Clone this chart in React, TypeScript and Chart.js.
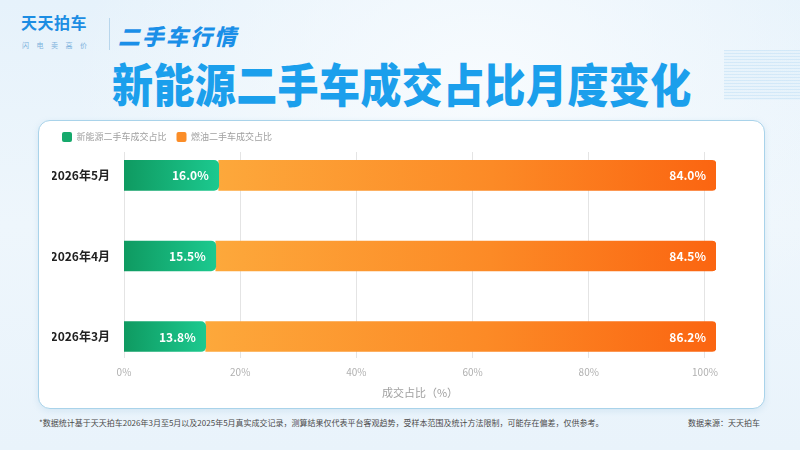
import React, { useEffect, useRef } from "react";
import { Chart, registerables } from "chart.js";

Chart.register(...registerables);

const categories = ["2026年5月", "2026年4月", "2026年3月"];
const nevShare = [16.0, 15.5, 13.8];
const fuelShare = [84.0, 84.5, 86.2];
const seriesNames = ["新能源二手车成交占比", "燃油二手车成交占比"];
const tickValues = [0, 20, 40, 60, 80, 100];
const axisTitle = "成交占比（%）";

const FONT = "'Noto Sans CJK SC', 'Noto Sans', sans-serif";
const BAR_OVERFLOW = 1.019; // bars run slightly past the 100% gridline in the reference

function greenFill(ctx: any) {
  const chart = ctx.chart;
  const xs = chart.scales && chart.scales.x;
  if (!chart.chartArea || !xs) return "#14a86c";
  const x0 = xs.getPixelForValue(0);
  const x1 = xs.getPixelForValue(nevShare[ctx.dataIndex] ?? 0);
  if (!isFinite(x0) || !isFinite(x1) || x1 <= x0) return "#14a86c";
  const g = chart.ctx.createLinearGradient(x0, 0, x1, 0);
  g.addColorStop(0, "#0f9a61");
  g.addColorStop(1, "#1cc98f");
  return g;
}

function orangeFill(ctx: any) {
  const chart = ctx.chart;
  const xs = chart.scales && chart.scales.x;
  if (!chart.chartArea || !xs) return "#fb8a25";
  const x0 = xs.getPixelForValue(nevShare[ctx.dataIndex] ?? 0);
  const x1 = xs.getPixelForValue(100);
  if (!isFinite(x0) || !isFinite(x1) || x1 <= x0) return "#fb8a25";
  const g = chart.ctx.createLinearGradient(x0, 0, x1, 0);
  g.addColorStop(0, "#fda83b");
  g.addColorStop(0.55, "#fc8a26");
  g.addColorStop(1, "#fb6511");
  return g;
}

const barLabels = {
  id: "barLabels",
  afterDatasetsDraw(chart: any) {
    const ctx = chart.ctx;
    ctx.save();
    ctx.font = `bold 12px ${FONT}`;
    ctx.fillStyle = "#ffffff";
    ctx.textAlign = "right";
    ctx.textBaseline = "middle";
    chart.data.datasets.forEach((ds: any, di: number) => {
      const meta = chart.getDatasetMeta(di);
      meta.data.forEach((el: any, i: number) => {
        const v = ds.data[i].x;
        ctx.fillText(v.toFixed(1) + "%", el.x - 10, el.y + 0.5);
      });
    });
    ctx.restore();
  },
};

function ShareChart() {
  const ref = useRef<HTMLCanvasElement | null>(null);
  useEffect(() => {
    if (!ref.current) return;
    const chart = new Chart(ref.current, {
      type: "bar",
      data: {
        datasets: [
          {
            label: seriesNames[0],
            data: nevShare.map((v, i) => ({ x: v, y: i })),
            backgroundColor: greenFill as any,
            borderRadius: { topLeft: 0, bottomLeft: 0, topRight: 5, bottomRight: 5 },
            borderSkipped: false,
            barThickness: 30,
            xAxisID: "x",
            yAxisID: "y",
          },
          {
            label: seriesNames[1],
            data: fuelShare.map((v, i) => ({ x: v, y: i })),
            backgroundColor: orangeFill as any,
            borderRadius: { topLeft: 0, bottomLeft: 0, topRight: 4, bottomRight: 4 },
            borderSkipped: false,
            barThickness: 30,
            xAxisID: "x",
            yAxisID: "y",
          },
        ],
      },
      options: {
        indexAxis: "y",
        animation: false,
        responsive: true,
        maintainAspectRatio: false,
        layout: { padding: { left: 14, right: 49, top: 2, bottom: 9.5 } },
        scales: {
          x: {
            type: "linear",
            stacked: true,
            min: 0,
            max: 100,
            display: false,
          },
          xt: {
            type: "linear",
            position: "bottom",
            min: 0,
            max: 100 * BAR_OVERFLOW,
            afterBuildTicks: (scale: any) => {
              scale.ticks = tickValues.map((v) => ({ value: v }));
            },
            grid: {
              color: "#e4e4e4",
              lineWidth: 1,
              drawTicks: false,
            },
            border: { display: false },
            ticks: {
              padding: 8,
              color: "#b0b0b0",
              font: { family: FONT, size: 10 },
              callback: (v: any) => v + "%",
            },
            title: {
              display: true,
              text: axisTitle,
              color: "#a0a0a0",
              font: { family: FONT, size: 11 },
              padding: { top: 0, bottom: 0 },
            },
          },
          y: {
            type: "linear",
            stacked: true,
            reverse: true,
            offset: false,
            min: -0.29,
            max: 2.27,
            afterBuildTicks: (scale: any) => {
              scale.ticks = categories.map((_, i) => ({ value: i }));
            },
            afterFit: (scale: any) => {
              scale.width = 72;
            },
            grid: { display: false, offset: false },
            border: { display: false },
            ticks: {
              padding: 6,
              color: "#222222",
              font: { family: FONT, size: 12, weight: "bold" },
              callback: (v: any) => categories[v] ?? "",
            },
          },
        },
        plugins: {
          legend: {
            display: true,
            position: "top",
            align: "start",
            labels: {
              boxWidth: 10,
              boxHeight: 10,
              padding: 10,
              color: "#a0a0a0",
              font: { family: FONT, size: 9 },
              generateLabels: () =>
                seriesNames.map((name, i) => ({
                  text: name,
                  fillStyle: i === 0 ? "#16a96c" : "#fb8d28",
                  strokeStyle: "rgba(0,0,0,0)",
                  lineWidth: 0,
                  borderRadius: 2,
                  datasetIndex: i,
                  fontColor: "#a0a0a0",
                })),
            },
          },
          tooltip: { enabled: false },
        },
      },
      plugins: [barLabels],
    } as any);
    return () => chart.destroy();
  }, []);
  return <canvas ref={ref} />;
}

export default function App() {
  useEffect(() => {
    document.body.style.margin = "0";
  }, []);
  return (
    <div
      style={{
        position: "relative",
        width: 800,
        height: 450,
        overflow: "hidden",
        fontFamily: FONT,
        background:
          "radial-gradient(ellipse at 60% 20%, #f7fbfe 0%, rgba(247,251,254,0) 60%), linear-gradient(180deg, #e6f2fb 0%, #eef6fc 50%, #e9f3fb 100%)",
      }}
    >
      <div
        style={{
          position: "absolute",
          left: 21,
          top: 10,
          fontSize: 16,
          fontWeight: 700,
          color: "#1c8de3",
          letterSpacing: 0.5,
          lineHeight: "24px",
        }}
      >
        天天拍车
      </div>
      <div
        style={{
          position: "absolute",
          left: 22,
          top: 40,
          fontSize: 7,
          color: "#7db2dc",
          letterSpacing: 7.5,
          lineHeight: "10px",
          whiteSpace: "nowrap",
        }}
      >
        闪电卖高价
      </div>
      <div
        style={{
          position: "absolute",
          left: 109,
          top: 18,
          width: 1,
          height: 32,
          background: "#b8d6ec",
        }}
      />
      <div
        style={{
          position: "absolute",
          left: 118,
          top: 21,
          fontSize: 22,
          fontWeight: 900,
          fontStyle: "italic",
          color: "#1a8fe8",
          letterSpacing: 2,
          lineHeight: "28px",
          whiteSpace: "nowrap",
        }}
      >
        二手车行情
      </div>
      <div
        style={{
          position: "absolute",
          left: 724,
          top: 50,
          width: 76,
          height: 50,
          background:
            "repeating-linear-gradient(180deg, rgba(190,222,245,0.55) 0px, rgba(190,222,245,0.55) 1px, rgba(220,238,250,0.35) 1px, rgba(220,238,250,0.35) 3px)",
        }}
      />
      <div
        style={{
          position: "absolute",
          left: 112,
          top: 55,
          fontSize: 41,
          fontWeight: 900,
          color: "#1b9fec",
          lineHeight: "54px",
          letterSpacing: 0.4,
          whiteSpace: "nowrap",
          transform: "scaleY(1.12)",
          transformOrigin: "center",
        }}
      >
        新能源二手车成交占比月度变化
      </div>
      <div
        style={{
          position: "absolute",
          left: 38,
          top: 120,
          width: 727,
          height: 289,
          boxSizing: "border-box",
          background: "#ffffff",
          border: "1.5px solid #a9d3ea",
          borderRadius: 12,
          boxShadow: "0 2px 6px rgba(110,170,210,0.18)",
        }}
      />
      <div style={{ position: "absolute", left: 38, top: 120, width: 727, height: 289 }}>
        <ShareChart />
      </div>
      <div
        style={{
          position: "absolute",
          left: 39,
          top: 417,
          fontSize: 8,
          color: "#4a4a4a",
          lineHeight: "12px",
          whiteSpace: "nowrap",
        }}
      >
        *数据统计基于天天拍车2026年3月至5月以及2025年5月真实成交记录，测算结果仅代表平台客观趋势，受样本范围及统计方法限制，可能存在偏差，仅供参考。
      </div>
      <div
        style={{
          position: "absolute",
          right: 40,
          top: 417,
          fontSize: 8,
          color: "#4a4a4a",
          lineHeight: "12px",
          whiteSpace: "nowrap",
        }}
      >
        数据来源：天天拍车
      </div>
    </div>
  );
}
